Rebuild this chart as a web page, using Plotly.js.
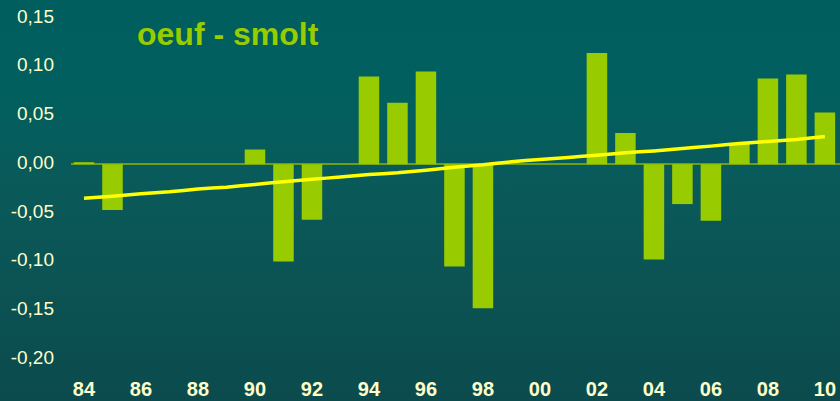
<!DOCTYPE html>
<html>
<head>
<meta charset="utf-8">
<script src="https://cdn.plot.ly/plotly-3.0.1.min.js"></script>
<style>
html, body { margin:0; padding:0; width:840px; height:401px; overflow:hidden; }
#chart { width:840px; height:401px;
  background: linear-gradient(to bottom, #005F5E 0%, #015F5E 25%, #0A5A5A 45%, #0C5354 70%, #0B4B4D 100%); }
</style>
</head>
<body>
<div id="chart"></div>
<script>
const years = ['84','85','86','87','88','89','90','91','92','93','94','95','96','97','98','99','00','01','02','03','04','05','06','07','08','09','10'];
const values = [0.002,-0.047,null,null,null,null,0.015,-0.100,-0.057,null,0.090,0.063,0.095,-0.105,-0.148,null,null,null,0.114,0.032,-0.098,-0.041,-0.058,0.021,0.088,0.092,0.053];
const trend = [-0.035,-0.033,-0.0305,-0.0284,-0.0256,-0.0236,-0.0208,-0.0181,-0.0154,-0.0133,-0.0106,-0.0089,-0.0062,-0.0031,-0.0007,0.0024,0.0048,0.0068,0.0092,0.0116,0.0136,0.0161,0.0185,0.0212,0.0233,0.0253,0.0284];
const tickLabels = ['84','86','88','90','92','94','96','98','00','02','04','06','08','10'];
const yTicks = [-0.20,-0.15,-0.10,-0.05,0,0.05,0.10,0.15];
const yTickText = ['-0,20','-0,15','-0,10','-0,05','0,00','0,05','0,10','0,15'];
const title = 'oeuf - smolt';

const data = [
  { type:'bar', x:years, y:values, marker:{color:'#99CC00', line:{width:0}}, width:0.72, hoverinfo:'skip' },
  { type:'scatter', mode:'lines', x:years, y:trend, line:{color:'#FFFF00', width:3.5, shape:'spline', smoothing:0.3}, hoverinfo:'skip' }
];

const layout = {
  width:840, height:401,
  paper_bgcolor:'rgba(0,0,0,0)', plot_bgcolor:'rgba(0,0,0,0)',
  margin:{l:71, r:0, t:18, b:42},
  showlegend:false,
  title:{ text:'<b>'+title+'</b>', font:{family:'Liberation Sans, Arial, sans-serif', size:32, color:'#99CC00'},
          x:137/840, xanchor:'left', xref:'container', y:1-34/401, yanchor:'middle', yref:'container' },
  xaxis:{ type:'category', categoryorder:'array', categoryarray:years, range:[-0.456, 26.53],
          tickvals:tickLabels, ticktext:tickLabels, ticks:'', showgrid:false, zeroline:false, showline:false,
          ticklabelstandoff:16,
          tickfont:{family:'Liberation Sans, Arial, sans-serif', size:20, color:'#FFFFCC', weight:'bold'} },
  yaxis:{ range:[-0.2, 0.15], tickvals:yTicks, ticktext:yTickText, ticks:'', showgrid:false,
          zeroline:true, zerolinecolor:'#6E9E16', zerolinewidth:2, showline:false,
          ticklabelstandoff:16, ticklabelshift:-2,
          tickfont:{family:'Liberation Sans, Arial, sans-serif', size:19, color:'#FFFFCC'} },
  bargap:0.28
};

Plotly.newPlot('chart', data, layout, {displayModeBar:false, staticPlot:true});
</script>
</body>
</html>
